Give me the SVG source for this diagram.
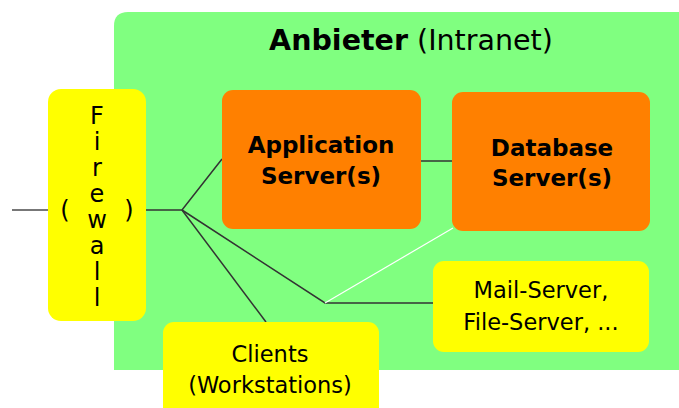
<svg xmlns="http://www.w3.org/2000/svg" width="679" height="408" viewBox="0 0 679 408">
  <defs>
    <style>
      .t { font-family: "DejaVu Sans", "Liberation Sans", sans-serif; fill: #000; text-anchor: middle; }
      .yel { fill: #FFFF00; }
      .org { fill: #FF8000; }
      .ln { stroke: #333; stroke-width: 1.5; fill: none; }
    </style>
  </defs>

  <!-- intranet zone -->
  <g id="intranet">
    <path d="M114,26 Q114,12 128,12 L679,12 L679,370 L114,370 Z" fill="#80FF80"/>
    <text class="t" x="411" y="50" font-size="28.5"><tspan font-weight="bold">Anbieter</tspan> (Intranet)</text>
  </g>

  <!-- connectors -->
  <g id="connectors">
    <line x1="12" y1="210" x2="48" y2="210" stroke="#777" stroke-width="2"/>
    <polyline class="ln" points="146,210 182,210 222,159"/>
    <line class="ln" x1="421" y1="161" x2="452" y2="161"/>
    <polyline class="ln" points="182,210 325,303 433,303"/>
    <line class="ln" x1="182" y1="210" x2="266" y2="322"/>
    <line x1="325" y1="303" x2="453" y2="228" stroke="#fff" stroke-width="1.2"/>
  </g>

  <g id="firewall">
    <rect class="yel" x="48" y="89" width="98" height="232" rx="13"/>
    <g class="t" font-size="24">
      <text x="97" y="124">F</text>
      <text x="97" y="150">i</text>
      <text x="97" y="176">r</text>
      <text x="97" y="202">e</text>
      <text x="97" y="228">w</text>
      <text x="97" y="254">a</text>
      <text x="97" y="280">l</text>
      <text x="97" y="306">l</text>
      <text x="65" y="218">(</text>
      <text x="129" y="218">)</text>
    </g>
  </g>

  <g id="appserver">
    <rect class="org" x="222" y="90" width="199" height="139" rx="11"/>
    <text class="t" x="321" y="153" font-size="23" font-weight="bold">Application</text>
    <text class="t" x="321" y="184" font-size="23" font-weight="bold">Server(s)</text>
  </g>

  <g id="dbserver">
    <rect class="org" x="452" y="92" width="198" height="139" rx="11"/>
    <text class="t" x="552" y="156" font-size="23" font-weight="bold">Database</text>
    <text class="t" x="552" y="186" font-size="23" font-weight="bold">Server(s)</text>
  </g>

  <g id="mailserver">
    <rect class="yel" x="433" y="261" width="216" height="91" rx="11"/>
    <text class="t" x="541" y="298" font-size="22.5">Mail-Server,</text>
    <text class="t" x="541" y="330" font-size="22.5">File-Server, ...</text>
  </g>

  <g id="clients">
    <rect class="yel" x="163" y="322" width="216" height="100" rx="11"/>
    <text class="t" x="270" y="362" font-size="22.5">Clients</text>
    <text class="t" x="270" y="393" font-size="22.5">(Workstations)</text>
  </g>
</svg>
